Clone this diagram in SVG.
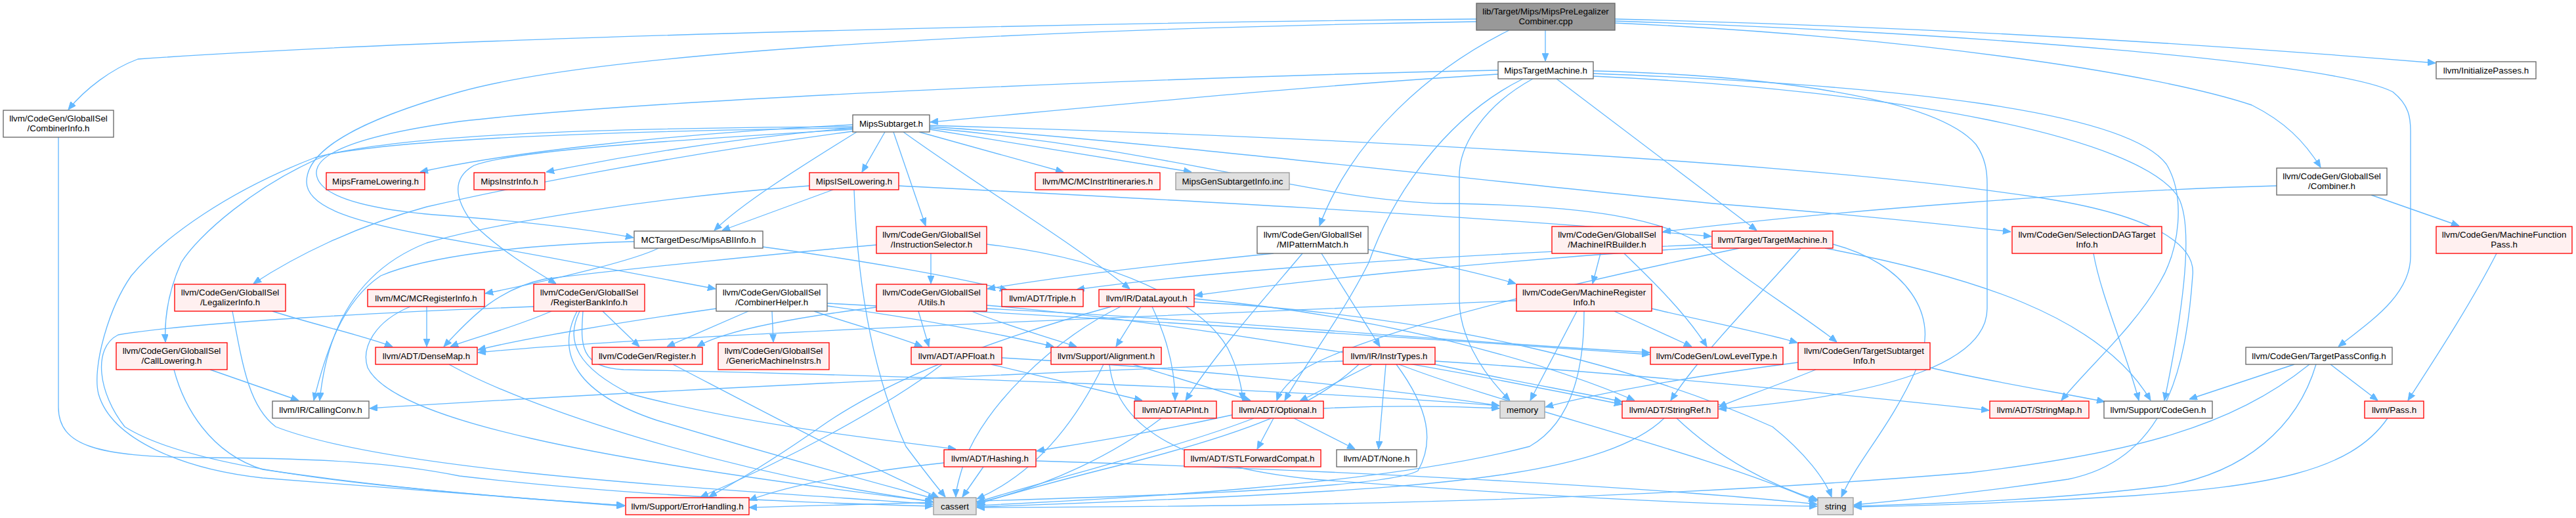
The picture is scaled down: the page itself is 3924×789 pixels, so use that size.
<svg xmlns="http://www.w3.org/2000/svg" width="3924" height="789" viewBox="0 0 3924 789">
<style>
rect{stroke-width:1.33}
.w{fill:#ffffff;stroke:#666666}
.r{fill:#fff0f0;stroke:#ff0000}
.g{fill:#e0e0e0;stroke:#999999}
.root{fill:#999999;stroke:#666666}
text{font-family:"Liberation Sans",Arial,Helvetica,sans-serif;font-size:13.33px;fill:#000000;text-anchor:middle}
#edges path{fill:none;stroke:#63b8ff;stroke-width:1.33;marker-end:url(#ah)}
</style>
<defs>
<marker id="ah" markerUnits="userSpaceOnUse" markerWidth="12" markerHeight="10" refX="12" refY="5" orient="auto">
<path d="M0,0 L12,5 L0,10 z" fill="#63b8ff" stroke="#63b8ff" stroke-width="1"/>
</marker>
</defs>
<rect x="0" y="0" width="3924" height="789" fill="#ffffff"/>
<g id="edges">
<path d="M2354,46 L2354,93"/>
<path d="M2249,29 C1700,34 700,55 210,90 C170,105 130,135 104,167"/>
<path d="M2249,33 C1700,42 950,70 700,140 C540,185 467,230 467,277 C467,318 550,340 660,360 C800,385 960,415 1090,440"/>
<path d="M2299,46 C2180,105 2060,210 2010,344"/>
<path d="M2460,29 C2900,40 3300,62 3710,96"/>
<path d="M2460,35 C2900,55 3280,110 3430,160 C3480,185 3510,215 3535,255"/>
<path d="M2460,32 C3000,50 3560,95 3645,140 C3670,160 3672,180 3672,200 L3672,390 C3672,450 3610,490 3562,528"/>
<path d="M2282,113 C2000,130 1700,160 1417,186"/>
<path d="M2282,107 C1800,117 1000,150 700,185 C520,210 480,240 482,265 C485,300 560,318 660,327 C800,337 900,350 965,362"/>
<path d="M2335,120 C2262,160 2223,220 2223,267 L2223,457 C2223,505 2250,560 2300,610"/>
<path d="M2371,120 L2676,351"/>
<path d="M2427,108 C2700,115 2950,150 3010,220 C3024,240 3027,260 3027,280 L3027,470 C3027,545 2900,600 2618,623"/>
<path d="M2427,112 C2900,130 3240,170 3300,250 C3330,300 3320,380 3290,430 C3250,500 3180,560 3140,610"/>
<path d="M2427,116 C2900,138 3260,210 3318,300 C3345,350 3320,500 3297,610"/>
<path d="M2320,120 C2200,180 2120,300 2085,400 C2045,480 1985,560 1957,610"/>
<path d="M1299,190 C1000,205 760,235 640,262"/>
<path d="M1299,195 C1100,212 950,238 832,262"/>
<path d="M1348,201 L1313,262"/>
<path d="M1400,201 L1620,262"/>
<path d="M1416,197 L1815,262"/>
<path d="M1305,201 C1210,260 1130,310 1088,351"/>
<path d="M1361,201 L1410,344"/>
<path d="M1299,195 C900,200 620,212 500,235 C390,280 300,360 276,400 C258,440 250,480 252,521"/>
<path d="M1299,193 C900,195 610,205 480,240 C350,290 250,360 200,420 C165,470 140,560 150,600 C170,670 280,715 400,728 C600,745 800,760 951,771"/>
<path d="M1299,200 C1000,240 760,290 650,315 C540,345 450,390 386,432"/>
<path d="M1299,197 C1000,215 780,230 722,252 C690,270 690,300 720,340 C760,380 810,410 847,432"/>
<path d="M1416,193 C1700,210 2300,280 2610,310 C2800,325 2950,340 3063,353"/>
<path d="M1416,195 C1800,230 2000,305 2200,310 C2400,312 2550,330 2610,387 C2680,440 2760,490 2798,521"/>
<path d="M1376,201 C1500,290 1620,360 1721,440"/>
<path d="M1416,191 C1900,205 2700,240 3100,300 C3300,330 3345,380 3340,420 C3330,560 3300,700 3150,730 C3000,752 2900,762 2824,769"/>
<path d="M1269,289 L1100,351"/>
<path d="M1233,283 C1000,300 750,340 650,370 C560,405 500,480 487,610"/>
<path d="M1369,283 C1700,300 2200,325 2607,360"/>
<path d="M1301,289 C1305,400 1320,550 1380,680 C1410,720 1430,745 1440,757"/>
<path d="M1003,378 C970,395 850,425 739,447"/>
<path d="M966,368 C800,372 650,390 580,420 C520,460 495,540 478,610"/>
<path d="M1162,376 C1300,395 1450,420 1535,442"/>
<path d="M1418,386 L1418,432"/>
<path d="M1335,373 C1200,385 950,410 830,425 C760,440 720,480 676,528"/>
<path d="M1503,372 C1700,395 1830,460 1870,530 C1885,560 1892,590 1893,610"/>
<path d="M2013,386 L2102,528"/>
<path d="M1984,386 C1930,450 1850,540 1806,610"/>
<path d="M2084,380 C2180,400 2250,415 2309,432"/>
<path d="M1940,386 C1800,400 1620,420 1504,440"/>
<path d="M2438,386 L2426,432"/>
<path d="M2474,386 C2520,430 2570,480 2600,528"/>
<path d="M2608,372 C2300,385 1900,405 1640,441"/>
<path d="M2608,376 C2300,395 2000,425 1820,450"/>
<path d="M2650,378 C2400,430 2100,500 1990,560 C1965,580 1950,595 1945,610"/>
<path d="M2743,378 C2680,450 2590,540 2545,610"/>
<path d="M2780,378 C3000,420 3200,480 3276,610"/>
<path d="M2792,372 C2900,400 2960,480 2920,560 C2880,650 2830,700 2805,757"/>
<path d="M3189,386 C3200,450 3240,540 3258,610"/>
<path d="M415,474 C480,495 550,510 598,528"/>
<path d="M354,474 C370,560 380,620 420,650 C600,720 1100,745 1421,768"/>
<path d="M650,467 L650,528"/>
<path d="M625,467 C570,490 550,530 560,560 C600,640 900,700 1421,764"/>
<path d="M840,474 C780,500 720,515 686,528"/>
<path d="M918,474 L974,528"/>
<path d="M883,474 C860,520 880,560 960,600 C1150,650 1350,670 1456,684"/>
<path d="M888,474 C885,520 880,560 950,563 C1400,572 2000,595 2284,618"/>
<path d="M879,474 C845,540 880,600 1000,640 C1200,700 1350,740 1425,760"/>
<path d="M813,467 C600,475 300,490 180,510 C140,530 150,600 190,650 C300,720 600,745 951,770"/>
<path d="M89,209 L89,620 C89,680 150,695 300,697 C500,698 600,705 700,725 C1000,760 1300,768 1421,771"/>
<path d="M1091,470 C950,490 800,515 728,533"/>
<path d="M1140,474 L1016,528"/>
<path d="M1176,474 L1178,521"/>
<path d="M1240,474 C1300,495 1360,510 1405,528"/>
<path d="M1260,462 C1600,480 2100,510 2513,540"/>
<path d="M1260,466 C1400,485 1530,510 1605,528"/>
<path d="M1399,474 L1415,528"/>
<path d="M1480,474 C1530,495 1600,515 1640,528"/>
<path d="M1335,468 C1200,485 1100,505 1062,528"/>
<path d="M1503,465 C1800,490 2200,560 2471,616"/>
<path d="M1503,470 C1900,490 2200,520 2513,537"/>
<path d="M1738,467 L1700,528"/>
<path d="M1755,467 C1780,520 1790,570 1790,610"/>
<path d="M1707,467 C1600,520 1500,620 1470,700 C1460,730 1456,745 1456,757"/>
<path d="M1693,467 C1500,520 1350,580 1250,650 C1150,720 1100,745 1080,757"/>
<path d="M1819,455 C2100,480 2350,550 2490,610"/>
<path d="M1819,460 C2200,480 2500,560 2700,650 C2750,690 2780,730 2790,757"/>
<path d="M2111,555 L2100,684"/>
<path d="M2090,555 L1980,611"/>
<path d="M2046,550 C1500,570 900,600 563,622"/>
<path d="M2186,550 C2500,570 2800,600 3030,625"/>
<path d="M2186,555 C2300,580 2420,600 2471,612"/>
<path d="M2070,555 C2000,620 1900,660 1700,710 C1600,735 1530,755 1488,768"/>
<path d="M2127,555 C2177,623 2185,673 2160,717 C2100,750 1600,760 1141,773"/>
<path d="M2131,555 C2300,620 2600,690 2767,764"/>
<path d="M2739,552 C2600,570 2450,595 2354,620"/>
<path d="M2766,563 C2700,590 2640,610 2618,620"/>
<path d="M2940,560 C3050,585 3150,600 3206,612"/>
<path d="M3550,555 L3622,610"/>
<path d="M3495,555 L3335,608"/>
<path d="M3518,555 C3400,650 3250,690 3000,720 C2400,770 1800,772 1488,773"/>
<path d="M3528,555 C3500,650 3420,720 3300,740 C3100,765 2900,768 2824,771"/>
<path d="M3637,637 C3580,720 3450,740 3250,755 C3000,770 2880,771 2824,772"/>
<path d="M3803,386 C3760,470 3700,560 3668,610"/>
<path d="M3468,283 C3200,290 2800,320 2533,353"/>
<path d="M3612,297 L3746,344"/>
<path d="M1971,637 L2064,684"/>
<path d="M1940,637 L1915,684"/>
<path d="M1910,637 C1800,680 1600,730 1488,765"/>
<path d="M2016,622 C2100,618 2200,618 2284,622"/>
<path d="M1877,632 C1750,660 1650,675 1579,687"/>
<path d="M1769,637 C1700,690 1600,740 1488,766"/>
<path d="M1510,555 L1740,610"/>
<path d="M1435,555 C1350,620 1200,700 1067,757"/>
<path d="M1526,545 C1800,560 2100,590 2284,618"/>
<path d="M1726,555 L1905,610"/>
<path d="M1681,555 C1640,640 1580,720 1488,760"/>
<path d="M1690,555 C1700,650 1800,710 2000,730 C2400,760 2650,770 2768,771"/>
<path d="M2535,637 C2450,720 2200,740 1900,755 C1700,765 1550,770 1488,772"/>
<path d="M2554,637 C2620,700 2700,740 2770,762"/>
<path d="M1498,711 L1466,757"/>
<path d="M1438,705 C1300,720 1200,740 1141,762"/>
<path d="M1578,702 C2000,715 2500,740 2768,768"/>
<path d="M684,555 C800,620 1100,720 1421,764"/>
<path d="M1025,555 C1150,620 1300,700 1430,758"/>
<path d="M320,563 L455,610"/>
<path d="M265,563 C280,620 320,690 400,715 C600,745 800,760 952,770"/>
<path d="M2402,474 L2331,610"/>
<path d="M2413,474 C2413,550 2400,640 2330,680 C2100,740 1700,760 1488,770"/>
<path d="M2459,474 L2577,528"/>
<path d="M2516,470 C2600,490 2680,505 2738,522"/>
<path d="M2310,458 C1800,480 1000,510 728,537"/>
</g>
<g id="n0"><rect class="root" x="2249" y="5" width="211" height="41"/><text x="2354.5" y="22">lib/Target/Mips/MipsPreLegalizer</text><text x="2354.5" y="37">Combiner.cpp</text></g>
<g id="n1"><rect class="w" x="2282" y="94" width="145" height="26"/><text x="2354.5" y="111.5">MipsTargetMachine.h</text></g>
<g id="n2"><rect class="w" x="3711" y="94" width="152" height="26"/><text x="3787" y="111.5">llvm/InitializePasses.h</text></g>
<g id="n3"><rect class="w" x="5" y="168" width="168" height="41"/><text x="89" y="185">llvm/CodeGen/GlobalISel</text><text x="89" y="200">/CombinerInfo.h</text></g>
<g id="n4"><rect class="w" x="1299" y="175" width="117" height="26"/><text x="1357.5" y="192.5">MipsSubtarget.h</text></g>
<g id="n5"><rect class="w" x="3468" y="256" width="168" height="41"/><text x="3552" y="273">llvm/CodeGen/GlobalISel</text><text x="3552" y="288">/Combiner.h</text></g>
<g id="n6"><rect class="r" x="497" y="263" width="150" height="26"/><text x="572" y="280.5">MipsFrameLowering.h</text></g>
<g id="n7"><rect class="r" x="722" y="263" width="108" height="26"/><text x="776" y="280.5">MipsInstrInfo.h</text></g>
<g id="n8"><rect class="r" x="1233" y="263" width="136" height="26"/><text x="1301" y="280.5">MipsISelLowering.h</text></g>
<g id="n9"><rect class="r" x="1577" y="263" width="190" height="26"/><text x="1672" y="280.5">llvm/MC/MCInstrItineraries.h</text></g>
<g id="n10"><rect class="g" x="1791" y="263" width="173" height="26"/><text x="1877.5" y="280.5">MipsGenSubtargetInfo.inc</text></g>
<g id="n11"><rect class="w" x="966" y="352" width="196" height="26"/><text x="1064" y="369.5">MCTargetDesc/MipsABIInfo.h</text></g>
<g id="n12"><rect class="r" x="1335" y="345" width="168" height="41"/><text x="1419" y="362">llvm/CodeGen/GlobalISel</text><text x="1419" y="377">/InstructionSelector.h</text></g>
<g id="n13"><rect class="w" x="1915" y="345" width="169" height="41"/><text x="1999.5" y="362">llvm/CodeGen/GlobalISel</text><text x="1999.5" y="377">/MIPatternMatch.h</text></g>
<g id="n14"><rect class="r" x="2364" y="345" width="168" height="41"/><text x="2448" y="362">llvm/CodeGen/GlobalISel</text><text x="2448" y="377">/MachineIRBuilder.h</text></g>
<g id="n15"><rect class="r" x="2608" y="352" width="184" height="26"/><text x="2700" y="369.5">llvm/Target/TargetMachine.h</text></g>
<g id="n16"><rect class="r" x="3065" y="345" width="228" height="41"/><text x="3179" y="362">llvm/CodeGen/SelectionDAGTarget</text><text x="3179" y="377">Info.h</text></g>
<g id="n17"><rect class="r" x="3711" y="345" width="207" height="41"/><text x="3814.5" y="362">llvm/CodeGen/MachineFunction</text><text x="3814.5" y="377">Pass.h</text></g>
<g id="n18"><rect class="r" x="266" y="433" width="169" height="41"/><text x="350.5" y="450">llvm/CodeGen/GlobalISel</text><text x="350.5" y="465">/LegalizerInfo.h</text></g>
<g id="n19"><rect class="r" x="560" y="441" width="178" height="26"/><text x="649" y="458.5">llvm/MC/MCRegisterInfo.h</text></g>
<g id="n20"><rect class="r" x="813" y="433" width="169" height="41"/><text x="897.5" y="450">llvm/CodeGen/GlobalISel</text><text x="897.5" y="465">/RegisterBankInfo.h</text></g>
<g id="n21"><rect class="w" x="1091" y="433" width="169" height="41"/><text x="1175.5" y="450">llvm/CodeGen/GlobalISel</text><text x="1175.5" y="465">/CombinerHelper.h</text></g>
<g id="n22"><rect class="r" x="1335" y="433" width="168" height="41"/><text x="1419" y="450">llvm/CodeGen/GlobalISel</text><text x="1419" y="465">/Utils.h</text></g>
<g id="n23"><rect class="r" x="1526" y="441" width="124" height="26"/><text x="1588" y="458.5">llvm/ADT/Triple.h</text></g>
<g id="n24"><rect class="r" x="1674" y="441" width="145" height="26"/><text x="1746.5" y="458.5">llvm/IR/DataLayout.h</text></g>
<g id="n25"><rect class="r" x="2310" y="433" width="206" height="41"/><text x="2413" y="450">llvm/CodeGen/MachineRegister</text><text x="2413" y="465">Info.h</text></g>
<g id="n26"><rect class="r" x="177" y="522" width="169" height="41"/><text x="261.5" y="539">llvm/CodeGen/GlobalISel</text><text x="261.5" y="554">/CallLowering.h</text></g>
<g id="n27"><rect class="r" x="572" y="529" width="155" height="26"/><text x="649.5" y="546.5">llvm/ADT/DenseMap.h</text></g>
<g id="n28"><rect class="r" x="902" y="529" width="168" height="26"/><text x="986" y="546.5">llvm/CodeGen/Register.h</text></g>
<g id="n29"><rect class="r" x="1094" y="522" width="169" height="41"/><text x="1178.5" y="539">llvm/CodeGen/GlobalISel</text><text x="1178.5" y="554">/GenericMachineInstrs.h</text></g>
<g id="n30"><rect class="r" x="1388" y="529" width="138" height="26"/><text x="1457" y="546.5">llvm/ADT/APFloat.h</text></g>
<g id="n31"><rect class="r" x="1601" y="529" width="168" height="26"/><text x="1685" y="546.5">llvm/Support/Alignment.h</text></g>
<g id="n32"><rect class="r" x="2046" y="529" width="140" height="26"/><text x="2116" y="546.5">llvm/IR/InstrTypes.h</text></g>
<g id="n33"><rect class="r" x="2514" y="529" width="202" height="26"/><text x="2615" y="546.5">llvm/CodeGen/LowLevelType.h</text></g>
<g id="n34"><rect class="r" x="2739" y="522" width="201" height="41"/><text x="2839.5" y="539">llvm/CodeGen/TargetSubtarget</text><text x="2839.5" y="554">Info.h</text></g>
<g id="n35"><rect class="w" x="3421" y="529" width="223" height="26"/><text x="3532.5" y="546.5">llvm/CodeGen/TargetPassConfig.h</text></g>
<g id="n36"><rect class="w" x="415" y="611" width="147" height="26"/><text x="488.5" y="628.5">llvm/IR/CallingConv.h</text></g>
<g id="n37"><rect class="r" x="1728" y="611" width="125" height="26"/><text x="1790.5" y="628.5">llvm/ADT/APInt.h</text></g>
<g id="n38"><rect class="r" x="1877" y="611" width="139" height="26"/><text x="1946.5" y="628.5">llvm/ADT/Optional.h</text></g>
<g id="n39"><rect class="g" x="2285" y="611" width="68" height="26"/><text x="2319" y="628.5">memory</text></g>
<g id="n40"><rect class="r" x="2471" y="611" width="146" height="26"/><text x="2544" y="628.5">llvm/ADT/StringRef.h</text></g>
<g id="n41"><rect class="r" x="3031" y="611" width="151" height="26"/><text x="3106.5" y="628.5">llvm/ADT/StringMap.h</text></g>
<g id="n42"><rect class="w" x="3205" y="611" width="165" height="26"/><text x="3287.5" y="628.5">llvm/Support/CodeGen.h</text></g>
<g id="n43"><rect class="r" x="3602" y="611" width="90" height="26"/><text x="3647" y="628.5">llvm/Pass.h</text></g>
<g id="n44"><rect class="r" x="1438" y="685" width="140" height="26"/><text x="1508" y="702.5">llvm/ADT/Hashing.h</text></g>
<g id="n45"><rect class="r" x="1804" y="685" width="208" height="26"/><text x="1908" y="702.5">llvm/ADT/STLForwardCompat.h</text></g>
<g id="n46"><rect class="w" x="2036" y="685" width="122" height="26"/><text x="2097" y="702.5">llvm/ADT/None.h</text></g>
<g id="n47"><rect class="r" x="953" y="758" width="188" height="26"/><text x="1047" y="775.5">llvm/Support/ErrorHandling.h</text></g>
<g id="n48"><rect class="g" x="1422" y="758" width="65" height="26"/><text x="1454.5" y="775.5">cassert</text></g>
<g id="n49"><rect class="g" x="2769" y="758" width="54" height="26"/><text x="2796" y="775.5">string</text></g>
</svg>
